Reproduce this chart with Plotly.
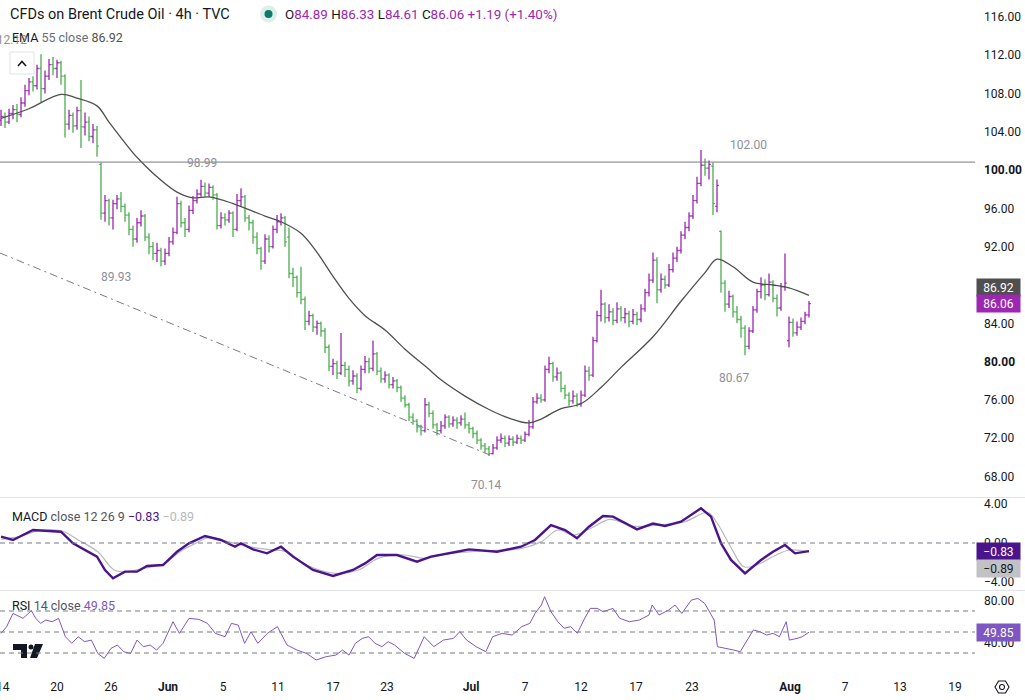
import plotly.graph_objects as go

# ---- values: Brent CFD, 4h bars (index 0 = first visible bar) ----
open_ = [
    105.2, 105.6, 105.0, 105.9, 106.3, 105.8, 107.0, 108.3, 109.2, 108.8,
    110.6, 108.5, 109.8, 111.0, 110.6, 111.2, 109.8, 104.8, 105.7, 104.6,
    106.2, 104.5, 105.0, 103.5, 104.2, 100.6, 95.5, 96.8, 95.0, 96.5,
    97.0, 96.2, 95.3, 93.8, 92.8, 94.5, 95.2, 93.0, 92.0, 91.3,
    91.6, 90.5, 91.3, 92.5, 93.5, 96.5, 94.5, 93.8, 95.8, 96.8,
    97.5, 98.3, 97.6, 98.2, 97.4, 94.2, 95.0, 94.8, 95.5, 93.8,
    96.8, 97.2, 95.0, 94.5, 93.0, 91.8, 90.5, 92.8, 92.0, 93.8,
    94.6, 95.0, 93.0, 89.2, 88.8, 87.2, 86.5, 84.2, 84.8, 83.6,
    84.0, 83.2, 81.5, 79.5, 79.8, 78.8, 79.6, 79.2, 78.0, 78.5,
    77.2, 79.2, 80.0, 79.3, 80.8, 79.0, 78.2, 78.6, 77.6, 78.0,
    77.3, 76.2, 75.5, 74.2, 73.8, 73.2, 72.8, 75.5, 74.6, 73.4,
    72.8, 73.3, 74.2, 73.5, 73.9, 73.6, 74.0, 73.4, 73.0, 72.5,
    71.8, 71.2, 70.9, 70.4, 71.0, 71.8, 72.0, 71.5, 71.9, 71.6,
    72.0, 71.8, 72.4, 73.2, 75.8, 76.2, 76.0, 79.2, 79.8, 78.4,
    78.8, 77.2, 76.5, 75.9, 76.4, 75.6, 76.5, 79.0, 78.6, 82.2,
    84.8, 86.0, 84.6, 85.2, 84.3, 85.5, 84.6, 85.0, 84.2, 84.9,
    84.4, 85.5, 87.2, 88.5, 90.6, 87.5, 88.6, 88.0, 89.6, 90.8,
    91.6, 93.2, 94.0, 95.2, 96.8, 98.6, 100.5, 100.2, 100.4, 96.2,
    93.6, 88.2, 86.0, 86.8, 85.2, 84.4, 83.5, 81.6, 83.2, 85.4,
    87.3, 88.0, 87.0, 88.3, 86.6, 85.6, 87.8, 82.2, 84.1, 83.0,
    83.6, 84.2, 84.89,
]
high = [
    106.3, 106.0, 106.4, 106.8, 106.9, 107.6, 108.9, 109.6, 109.8, 111.0,
    112.1, 110.4, 111.6, 111.8, 111.5, 111.4, 110.0, 106.3, 106.0, 106.6,
    109.4, 106.0, 105.6, 104.8, 104.6, 100.8, 97.4, 97.0, 96.9, 97.4,
    97.7, 96.5, 95.6, 94.2, 95.0, 95.8, 95.4, 93.4, 92.5, 92.4,
    91.9, 91.8, 93.0, 94.0, 97.2, 96.8, 95.0, 96.3, 97.3, 98.0,
    98.99, 98.7, 98.6, 98.4, 97.6, 95.6, 95.5, 95.8, 95.7, 97.5,
    98.1, 97.4, 95.3, 94.8, 93.5, 92.0, 93.3, 93.2, 94.2, 95.3,
    95.5, 95.2, 94.0, 89.8, 89.0, 89.9, 86.8, 85.3, 85.0, 84.3,
    84.2, 83.5, 81.8, 80.3, 80.1, 83.0, 80.0, 79.6, 79.1, 78.8,
    79.6, 80.6, 80.4, 82.2, 81.0, 79.4, 79.0, 78.8, 78.4, 78.2,
    77.5, 76.5, 75.7, 74.6, 74.0, 73.4, 76.2, 75.8, 74.9, 73.6,
    73.8, 74.5, 74.4, 74.3, 74.2, 74.4, 74.7, 73.7, 73.2, 72.8,
    72.0, 71.5, 71.2, 71.4, 72.2, 72.5, 72.3, 72.3, 72.2, 72.4,
    72.3, 72.7, 73.9, 76.3, 76.7, 76.6, 79.6, 80.5, 80.0, 79.4,
    79.0, 77.6, 76.8, 77.0, 76.7, 77.0, 79.6, 79.5, 82.6, 85.3,
    87.5, 86.2, 86.0, 85.6, 86.2, 85.8, 85.6, 85.3, 85.5, 85.2,
    86.0, 87.6, 89.2, 91.4, 90.9, 89.2, 89.0, 90.2, 91.4, 92.0,
    93.6, 94.6, 95.6, 97.4, 99.3, 102.1, 101.2, 101.0, 100.8, 99.0,
    93.7, 88.5, 87.4, 87.0, 85.8, 84.8, 83.8, 83.6, 85.8, 87.6,
    88.8, 88.6, 89.2, 88.5, 87.0, 88.2, 91.3, 84.7, 84.5, 84.2,
    84.6, 85.2, 86.33,
]
low = [
    104.6, 104.4, 104.8, 105.3, 105.0, 105.5, 106.6, 107.8, 108.2, 108.4,
    107.1, 108.0, 109.4, 109.9, 109.6, 108.9, 103.4, 104.2, 103.9, 104.2,
    102.3, 103.6, 103.0, 102.8, 101.4, 94.8, 94.6, 94.2, 93.8, 95.9,
    95.6, 94.6, 93.2, 92.0, 92.4, 94.1, 92.6, 91.2, 90.6, 90.4,
    89.93, 90.1, 91.0, 92.2, 93.3, 94.0, 93.0, 93.5, 95.4, 96.5,
    97.2, 97.2, 97.2, 96.9, 93.8, 93.9, 94.2, 94.5, 93.0, 93.6,
    96.2, 94.6, 93.7, 92.3, 91.2, 89.6, 90.2, 91.4, 91.8, 93.4,
    94.2, 92.0, 88.7, 87.8, 86.7, 86.0, 83.3, 83.8, 83.1, 82.8,
    82.6, 80.9, 79.0, 78.6, 78.2, 78.6, 78.4, 77.4, 77.6, 76.7,
    77.0, 78.8, 78.8, 79.0, 78.6, 77.8, 77.8, 77.2, 77.2, 76.8,
    75.8, 75.2, 73.8, 73.4, 72.6, 72.3, 72.6, 74.2, 73.0, 72.3,
    72.5, 73.0, 73.1, 73.2, 73.0, 73.3, 73.0, 72.5, 72.0, 71.4,
    70.8, 70.5, 70.14, 70.3, 70.8, 71.5, 71.1, 71.2, 71.2, 71.4,
    71.4, 71.6, 72.2, 73.0, 75.6, 75.7, 75.8, 78.8, 77.9, 78.0,
    76.8, 76.1, 75.4, 75.6, 75.3, 75.3, 76.3, 78.0, 78.4, 82.0,
    84.2, 84.0, 84.2, 83.8, 84.0, 84.2, 84.0, 83.6, 83.9, 83.8,
    84.1, 85.2, 86.8, 88.2, 86.1, 87.2, 87.6, 87.8, 89.3, 90.4,
    91.3, 92.8, 93.6, 94.9, 96.5, 98.3, 99.4, 99.0, 95.3, 95.6,
    87.2, 85.2, 85.6, 84.6, 84.0, 82.5, 80.67, 81.3, 83.0, 85.1,
    86.6, 86.4, 86.8, 86.2, 84.7, 85.3, 87.4, 81.5, 82.6, 82.7,
    83.3, 83.9, 84.61,
]
close = [
    105.6, 105.0, 105.9, 106.3, 105.8, 107.0, 108.3, 109.2, 108.8, 110.6,
    108.5, 109.8, 111.0, 110.6, 111.2, 109.8, 104.8, 105.7, 104.6, 106.2,
    104.5, 105.0, 103.5, 104.2, 102.5, 95.5, 96.8, 95.0, 96.5, 97.0,
    96.2, 95.3, 93.8, 92.8, 94.5, 95.2, 93.0, 92.0, 91.3, 91.6,
    90.5, 91.3, 92.5, 93.5, 96.5, 94.5, 93.8, 95.8, 96.8, 97.5,
    98.3, 97.6, 98.2, 97.4, 94.2, 95.0, 94.8, 95.5, 93.8, 96.8,
    97.2, 95.0, 94.5, 93.0, 91.8, 90.5, 92.8, 92.0, 93.8, 94.6,
    95.0, 92.5, 89.2, 88.8, 87.2, 86.5, 84.2, 84.8, 83.6, 84.0,
    83.2, 81.5, 79.5, 79.8, 78.8, 79.6, 79.2, 78.0, 78.5, 77.2,
    79.2, 80.0, 79.3, 80.8, 79.0, 78.2, 78.6, 77.6, 78.0, 77.3,
    76.2, 75.5, 74.2, 73.8, 73.2, 72.8, 75.5, 74.6, 73.4, 72.8,
    73.3, 74.2, 73.5, 73.9, 73.6, 74.0, 73.4, 73.0, 72.5, 71.8,
    71.2, 70.9, 70.4, 71.0, 71.8, 72.0, 71.5, 71.9, 71.6, 72.0,
    71.8, 72.4, 73.2, 75.8, 76.2, 76.0, 79.2, 79.8, 78.4, 78.8,
    77.2, 76.5, 75.9, 76.4, 75.6, 76.5, 79.0, 78.6, 82.2, 84.8,
    86.0, 84.6, 85.2, 84.3, 85.5, 84.6, 85.0, 84.2, 84.9, 84.4,
    85.5, 87.2, 88.5, 90.6, 87.5, 88.6, 88.0, 89.6, 90.8, 91.6,
    93.2, 94.0, 95.2, 96.8, 98.6, 100.5, 100.2, 100.6, 96.5, 98.4,
    88.2, 86.0, 86.8, 85.2, 84.4, 83.5, 81.6, 83.2, 85.4, 87.3,
    88.0, 87.0, 88.3, 86.6, 85.6, 87.8, 88.2, 84.1, 83.0, 83.6,
    84.2, 84.87, 86.06,
]

# EMA 55 (sampled along the curve)
ema_idx = [0, 7, 15, 19, 24, 27, 33, 35, 39, 44, 48, 52, 58, 66, 70, 75, 79, 83, 87, 91,
           96, 101, 107, 110, 116, 122, 127, 132, 135, 140, 145, 150, 155, 163, 170, 176,
           179, 183, 188, 193, 197, 202]
ema_val = [105.4, 106.4, 107.9, 107.5, 106.7, 105.0, 101.8, 100.9, 99.3, 97.7, 97.1, 97.2,
           96.5, 95.2, 94.6, 93.4, 91.4, 88.9, 86.6, 84.8, 83.3, 81.3, 79.2, 78.1, 76.4,
           75.0, 74.1, 73.6, 74.0, 75.1, 75.6, 77.3, 79.4, 82.6, 86.3, 89.3, 90.7, 89.9,
           88.3, 88.0, 87.7, 86.92]

# MACD 12 26 9
macd_idx = [0, 3, 8, 13, 15, 18, 21, 24, 26, 28, 31, 34, 36.5, 40.5, 44, 47, 51, 55, 58.5,
            60, 63, 66.5, 70, 73, 78, 83, 88, 91, 94, 99, 104, 107.5, 114, 117, 124, 130,
            133.5, 137.5, 141, 144, 147, 150.5, 153, 159, 163, 166, 170, 175, 177.5, 180,
            182.5, 186, 190, 193, 196, 198.5, 202]
macd_val = [0.65, 0.31, 1.33, 1.26, 1.16, -0.03, -0.72, -1.4, -2.77, -3.62, -2.94, -2.94,
            -2.36, -2.26, -0.9, -0.03, 0.72, 0.31, -0.38, -0.03, -0.65, -1.06, -0.38, -1.4,
            -2.77, -3.38, -2.77, -2.09, -1.23, -1.23, -1.92, -1.4, -0.9, -0.65, -0.9, -0.38,
            0.31, 1.84, 1.33, 0.48, 1.67, 2.77, 2.7, 1.4, 2.0, 1.74, 2.19, 3.56, 2.7, -0.03,
            -1.74, -3.11, -1.74, -0.9, -0.21, -1.06, -0.83]
signal_idx = [0, 4.6, 9.5, 15.2, 19.3, 24.2, 28.3, 31.5, 35.6, 40.5, 45.4, 48.7, 51.9, 56.8,
              61.7, 66.6, 71.5, 76.4, 83.7, 89.4, 94.3, 100.9, 105.8, 112.3, 120.4, 130.2,
              135.1, 139.2, 143.3, 148.2, 152.2, 157.9, 164.5, 171, 176.7, 179.1, 182.4,
              185.7, 188.9, 193.8, 197.1, 202]
signal_val = [0.38, 0.65, 1.26, 1.23, 0.31, -0.9, -2.77, -2.94, -2.6, -2.16, -0.72, -0.03,
              0.55, 0.14, -0.38, -0.65, -0.9, -2.26, -3.11, -2.77, -1.57, -1.23, -1.57,
              -1.06, -0.82, -0.55, 0.14, 1.33, 0.82, 1.67, 2.43, 1.74, 1.84, 2.19, 3.12, 2.0,
              -0.38, -2.43, -2.26, -1.23, -0.72, -0.89]

# RSI 14
rsi_idx = [0, 1.4, 3.0, 5.5, 7.6, 8.7, 9.9, 11.2, 12.8, 14.4, 16.1, 17.7, 19.3, 20.9, 22.6,
           24.2, 25.8, 27.5, 29.1, 30.7, 32.4, 34.0, 35.6, 37.3, 38.9, 40.5, 43.0, 44.6, 47.0,
           49.5, 51.6, 53.6, 56.0, 57.6, 59.3, 60.9, 62.5, 64.2, 66.6, 69.1, 71.5, 74.0, 76.4,
           78.8, 81.3, 83.7, 85.4, 87.0, 88.6, 90.3, 91.9, 93.5, 95.2, 96.8, 98.4, 100.9,
           103.3, 105.8, 108.2, 110.6, 113.1, 114.7, 116.4, 118.8, 121.2, 122.9, 125.3,
           127.8, 130.2, 132.2, 133.5, 135.1, 135.9, 137.5, 139.2, 140.8, 142.4, 144.1,
           145.7, 147.3, 149.0, 150.6, 153.0, 154.7, 157.1, 159.6, 162.0, 162.8, 164.5,
           166.9, 168.5, 170.2, 172.6, 174.2, 175.9, 178.3, 179.1, 181.6, 183.2, 184.8,
           186.5, 188.1, 189.7, 191.4, 193.0, 194.6, 196.3, 197.1, 199.0, 200.3, 202]
rsi_val = [48.7, 55.0, 67.7, 63.0, 70.3, 63.0, 58.2, 61.4, 59.8, 63.0, 45.5, 39.2, 45.5,
           40.8, 42.3, 29.6, 24.9, 34.4, 37.6, 31.2, 29.6, 42.3, 36.0, 37.6, 32.8, 39.2,
           59.8, 48.7, 63.0, 62.0, 58.2, 48.7, 45.5, 58.2, 56.6, 39.2, 50.3, 39.2, 48.7,
           55.1, 37.6, 32.8, 29.6, 23.3, 26.5, 28.0, 32.8, 28.0, 39.2, 43.9, 45.5, 39.2,
           36.0, 40.8, 37.6, 29.6, 24.9, 45.5, 36.0, 42.3, 43.9, 50.3, 42.3, 36.0, 31.2,
           45.5, 48.7, 47.1, 55.1, 58.2, 67.7, 75.7, 83.6, 69.3, 59.8, 53.5, 55.1, 48.7,
           61.4, 72.5, 72.5, 69.3, 72.5, 63.0, 59.8, 61.4, 66.2, 75.7, 66.2, 70.9, 75.7,
           67.7, 80.4, 82.0, 77.3, 61.4, 36.0, 34.4, 32.8, 31.2, 42.3, 51.9, 50.3, 47.1,
           48.7, 45.5, 59.8, 42.3, 43.9, 45.5, 49.85]

# drawings
trend_idx = [-0.25, 122.25]
trend_val = [91.34, 70.25]
level_price = 100.83
price_notes = [("112.12", 1.9, 113.6), ("98.99", 50.25, 100.73), ("89.93", 28.75, 88.85),
               ("70.14", 121.25, 67.1), ("102.00", 186.75, 102.6), ("80.67", 183.25, 78.3)]

# axes
price_ticks = [68, 72, 76, 80, 84, 92, 96, 100, 104, 108, 112, 116]
macd_ticks = [-4, 0, 4]
rsi_ticks = [40, 80]
rsi_bands = [30, 50, 70]
date_tick_idx = [0.5, 14, 27.5, 41.75, 55.5, 69.25, 83, 96.5, 117.5, 131, 145, 158.75,
                 172.75, 197.25, 211, 224.75, 238.5]
date_tick_text = ["14", "20", "26", "<b>Jun</b>", "5", "11", "17", "23", "<b>Jul</b>", "7",
                  "12", "17", "23", "<b>Aug</b>", "7", "13", "19"]

UP = "#9c27b0"
DOWN = "#4caf50"
EMA_C = "#4f4f4f"
MACD_C = "#4a148c"
SIG_C = "#b8b8bd"
RSI_C = "#7e57c2"
GREY = "#787b86"
TXT = "#131722"
FONT = "Roboto, Lato, sans-serif"

PW, PH = 975, 672  # plot area in pixels


def px(x):
    return x / PW


def py(y):
    return (PH - y) / PH


def fmt(v):
    return f"{v:.2f}".replace("-", "\u2212")


def path(points):
    s = "M " + " L ".join(f"{px(a):.5f},{py(b):.5f}" for a, b in points)
    return s + " Z"


bars = list(range(len(close)))

fig = go.Figure()
fig.add_trace(go.Ohlc(x=bars, open=open_, high=high, low=low, close=close,
                      increasing=dict(line=dict(color=UP, width=1.3)),
                      decreasing=dict(line=dict(color=DOWN, width=1.3)),
                      tickwidth=0.45, hoverinfo="skip", yaxis="y"))
fig.add_trace(go.Scatter(x=ema_idx, y=ema_val, mode="lines", line=dict(color=EMA_C, width=1.3, shape="spline"),
                         hoverinfo="skip", yaxis="y"))
fig.add_trace(go.Scatter(x=trend_idx, y=trend_val, mode="lines",
                         line=dict(color=GREY, width=1, dash="8px,4px,2px,4px"), hoverinfo="skip", yaxis="y"))
fig.add_trace(go.Scatter(x=signal_idx, y=signal_val, mode="lines", line=dict(color=SIG_C, width=1.2, shape="spline"),
                         hoverinfo="skip", yaxis="y2"))
fig.add_trace(go.Scatter(x=macd_idx, y=macd_val, mode="lines", line=dict(color=MACD_C, width=2.4),
                         hoverinfo="skip", yaxis="y2"))
fig.add_trace(go.Scatter(x=rsi_idx, y=rsi_val, mode="lines", line=dict(color=RSI_C, width=1),
                         hoverinfo="skip", yaxis="y3"))

shapes = [
    dict(type="line", xref="x domain", x0=0, x1=1, yref="y", y0=level_price, y1=level_price,
         line=dict(color=GREY, width=1)),
    dict(type="line", xref="x domain", x0=0, x1=1, yref="y2", y0=0, y1=0,
         line=dict(color=GREY, width=1, dash="5px,4px")),
    # pane separators
    dict(type="line", xref="paper", x0=0, x1=px(1025), yref="paper", y0=py(497.5), y1=py(497.5),
         line=dict(color="#e0e3eb", width=1)),
    dict(type="line", xref="paper", x0=0, x1=px(1025), yref="paper", y0=py(590.5), y1=py(590.5),
         line=dict(color="#e0e3eb", width=1)),
    # collapse button
    dict(type="rect", xref="paper", yref="paper", x0=px(10), x1=px(34), y0=py(74), y1=py(52),
         line=dict(color="#e0e3eb", width=1), fillcolor="rgba(255,255,255,0.8)"),
    dict(type="path", xref="paper", yref="paper",
         path=f"M {px(18):.5f},{py(66):.5f} L {px(22):.5f},{py(61.5):.5f} L {px(26):.5f},{py(66):.5f}",
         line=dict(color=TXT, width=1.5)),
    # header status dot
    dict(type="circle", xref="paper", yref="paper", x0=px(260), x1=px(277), y0=py(22.5), y1=py(5.5),
         line=dict(width=0), fillcolor="#dcefe9"),
    dict(type="circle", xref="paper", yref="paper", x0=px(264.5), x1=px(272.5), y0=py(18), y1=py(10),
         line=dict(width=0), fillcolor="#0d7a65"),
    # TradingView logo
    dict(type="path", xref="paper", yref="paper",
         path=path([(13, 644), (27, 644), (27, 658), (21, 658), (21, 650), (13, 650)]),
         line=dict(width=0), fillcolor=TXT),
    dict(type="circle", xref="paper", yref="paper", x0=px(28.5), x1=px(33.5), y0=py(649.5), y1=py(644.5),
         line=dict(width=0), fillcolor=TXT),
    dict(type="path", xref="paper", yref="paper",
         path=path([(35, 644), (43, 644), (37, 658), (30, 658)]),
         line=dict(width=0), fillcolor=TXT),
    # settings icon
    dict(type="path", xref="paper", yref="paper",
         path=path([(995, 687), (998.5, 681), (1005.5, 681), (1009, 687), (1005.5, 693), (998.5, 693)]),
         line=dict(color=TXT, width=1.1)),
    dict(type="circle", xref="paper", yref="paper", x0=px(999.5), x1=px(1004.5), y0=py(689.5), y1=py(684.5),
         line=dict(color=TXT, width=1.1)),
]
for b in rsi_bands:
    shapes.append(dict(type="line", xref="x domain", x0=0, x1=1, yref="y3", y0=b, y1=b,
                       line=dict(color=GREY, width=1, dash="5px,4px")))

chg = close[-1] - close[-2]
pct = chg / close[-2] * 100


def purple(v):
    return f"<span style='color:{UP}'>{v}</span>"


ann = [
    dict(x=px(8), y=py(14), text="CFDs on Brent Crude Oil · 4h · TVC", font=dict(size=14.5, color=TXT)),
    dict(x=px(283), y=py(14),
         text=(f"O{purple(f'{open_[-1]:.2f}')} H{purple(f'{high[-1]:.2f}')} "
               f"L{purple(f'{low[-1]:.2f}')} C{purple(f'{close[-1]:.2f}')} "
               f"{purple(f'{chg:+.2f} ({pct:+.2f}%)')}"),
         font=dict(size=13.4, color=TXT)),
    dict(x=px(10), y=py(37),
         text=f"EMA <span style='color:#6a6d78'>55 close</span> <span style='color:{EMA_C}'>{ema_val[-1]:.2f}</span>",
         font=dict(size=12.5, color=TXT)),
    dict(x=px(10), y=py(516),
         text=(f"MACD <span style='color:#50535e'>close 12 26 9</span> "
               f"<span style='color:{MACD_C}'>{fmt(macd_val[-1])}</span> "
               f"<span style='color:{SIG_C}'>{fmt(signal_val[-1])}</span>"),
         font=dict(size=12.5, color=TXT)),
    dict(x=px(10), y=py(605),
         text=f"RSI <span style='color:#50535e'>14 close</span> <span style='color:{RSI_C}'>{rsi_val[-1]:.2f}</span>",
         font=dict(size=12.5, color=TXT)),
]
for a in ann:
    a.update(xref="paper", yref="paper", xanchor="left", yanchor="middle", showarrow=False)

# first date label sits half outside the pane (plotly hides it as a tick label)
ann.append(dict(x=date_tick_idx[0], xref="x", y=py(687), yref="paper", text=date_tick_text[0],
                showarrow=False, xanchor="center", yanchor="middle", font=dict(size=12, color=TXT)))

for t, xi, yv in price_notes:
    ann.append(dict(x=xi, y=yv, xref="x", yref="y", text=t, showarrow=False,
                    font=dict(size=12, color="#8c8f99")))

# last-value boxes on the scales
boxes = [
    ("y", ema_val[-1], EMA_C, "white", 8),
    ("y", close[-1], UP, "white", 0),
    ("y2", macd_val[-1], MACD_C, "white", 0),
    ("y2", signal_val[-1], "#c2c2c6", TXT, -17),
    ("y3", rsi_val[-1], RSI_C, "white", 0),
]
for yr, v, bg, fg, sh in boxes:
    ann.append(dict(x=1, xref="paper", y=v, yref=yr, text=fmt(v), showarrow=False,
                    xanchor="left", yanchor="middle", xshift=1, yshift=sh,
                    bgcolor=bg, font=dict(size=12, color=fg), width=41, height=15, borderpad=1))

axis_common = dict(showgrid=False, zeroline=False, showline=False, ticks="", side="right",
                   anchor="x", tickfont=dict(size=12, color=TXT), ticklabelstandoff=8)

fig.update_layout(
    width=1025, height=700,
    margin=dict(l=0, r=50, t=0, b=28),
    paper_bgcolor="white", plot_bgcolor="white",
    font=dict(family=FONT, color=TXT),
    showlegend=False, hovermode=False,
    xaxis=dict(domain=[0, 1], anchor="y3", range=[-0.25, 243.5], showgrid=False, zeroline=False,
               showline=False, ticks="", tickvals=date_tick_idx[1:], ticktext=date_tick_text[1:],
               tickfont=dict(size=12, color=TXT), ticklabelstandoff=6,
               rangeslider=dict(visible=False)),
    yaxis=dict(domain=[py(497), 1], range=[65.87, 117.75], tickvals=price_ticks,
               ticktext=[f"<b>{v:.2f}</b>" if v in (80, 100) else f"{v:.2f}" for v in price_ticks],
               **axis_common),
    yaxis2=dict(domain=[py(590), py(498)], range=[-4.82, 4.615], tickvals=macd_ticks,
                ticktext=[fmt(v) for v in macd_ticks], **axis_common),
    yaxis3=dict(domain=[0, py(591)], range=[11.9, 89.05], tickvals=rsi_ticks,
                ticktext=[f"{v:.2f}" for v in rsi_ticks], **axis_common),
    shapes=shapes,
    annotations=ann,
)

# the page's default body margin would shift the chart by 8px
fig.write_html("out.html", config={"displayModeBar": False},
               post_script="document.body.style.margin='0';")
